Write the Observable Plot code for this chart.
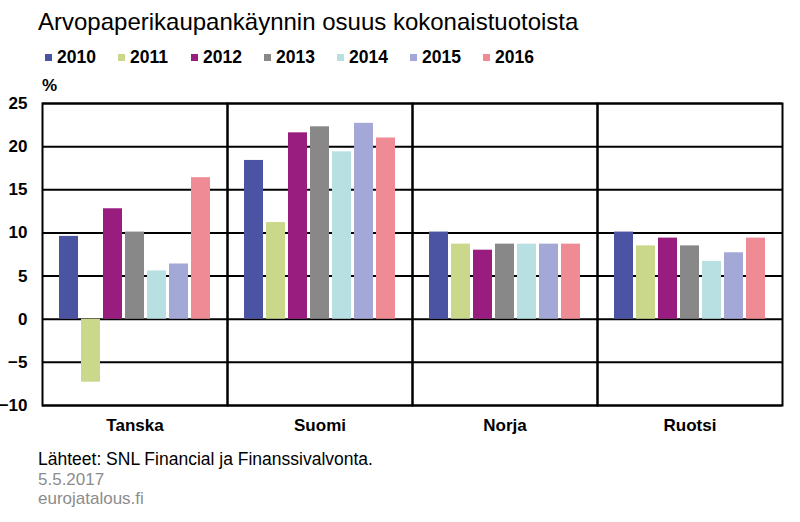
<!DOCTYPE html>
<html>
<head>
<meta charset="utf-8">
<script src="https://cdn.jsdelivr.net/npm/d3@7"></script>
<script src="https://cdn.jsdelivr.net/npm/@observablehq/plot@0.6"></script>
<style>
  html, body { margin: 0; padding: 0; background: #fff; }
  #wrap { position: relative; width: 800px; height: 522px; overflow: hidden; font-family: "Liberation Sans", Arial, sans-serif; color: #000; }
  .abs { position: absolute; white-space: nowrap; line-height: 1; }
  #title { left: 38px; top: 10px; font-size: 24px; }
  #legend { left: 45px; top: 49px; font-size: 17.5px; font-weight: bold; display: flex; }
  .item { display: flex; align-items: center; width: 73px; }
  .sw { width: 7px; height: 7px; margin-right: 5px; }
  #unit { left: 42px; top: 77px; font-size: 17px; font-weight: bold; }
  #chart { position: absolute; left: 0; top: 95px; }
  #src { left: 38px; top: 451px; font-size: 17.5px; }
  #date { left: 38px; top: 471px; font-size: 17px; color: #8c8c8c; }
  #site { left: 38px; top: 490px; font-size: 17px; color: #8c8c8c; }
</style>
</head>
<body>
<div id="wrap">
  <div id="title" class="abs">Arvopaperikaupankäynnin osuus kokonaistuotoista</div>
  <div id="legend" class="abs"></div>
  <div id="unit" class="abs">%</div>
  <div id="chart"></div>
  <div id="src" class="abs">Lähteet: SNL Financial ja Finanssivalvonta.</div>
  <div id="date" class="abs">5.5.2017</div>
  <div id="site" class="abs">eurojatalous.fi</div>
</div>
<script>
const countries = ["Tanska", "Suomi", "Norja", "Ruotsi"];
const years = ["2010", "2011", "2012", "2013", "2014", "2015", "2016"];
const v2010 = [9.6, 18.4, 10.1, 10.1];
const v2011 = [-7.3, 11.2, 8.7, 8.5];
const v2012 = [12.8, 21.6, 8.0, 9.4];
const v2013 = [10.1, 22.3, 8.7, 8.5];
const v2014 = [5.6, 19.4, 8.7, 6.7];
const v2015 = [6.4, 22.7, 8.7, 7.7];
const v2016 = [16.4, 21.0, 8.7, 9.4];
const colors = ["#4b53a3", "#cad88b", "#991c7f", "#888888", "#b8e0e2", "#a4a8d6", "#ef8b94"];
const yTicks = [-10, -5, 0, 5, 10, 15, 20, 25];

const series = [v2010, v2011, v2012, v2013, v2014, v2015, v2016];
const data = [];
years.forEach((yr, i) => {
  countries.forEach((c, j) => data.push({country: c, year: yr, value: series[i][j]}));
});

const legend = document.getElementById("legend");
years.forEach((yr, i) => {
  const it = document.createElement("div");
  it.className = "item";
  const sw = document.createElement("span");
  sw.className = "sw";
  sw.style.background = colors[i];
  const t = document.createElement("span");
  t.textContent = yr;
  it.appendChild(sw); it.appendChild(t);
  legend.appendChild(it);
});

const chart = Plot.plot({
  width: 800,
  height: 345,
  marginLeft: 42,
  marginRight: 18,
  marginTop: 8,
  marginBottom: 35,
  style: {fontFamily: "'Liberation Sans', Arial, sans-serif", fontSize: "17px", fontWeight: "bold", color: "#000", background: "#fff"},
  fx: {domain: countries, padding: 0, label: null},
  x: {domain: years, paddingInner: 0.136, paddingOuter: 0.77, axis: null},
  y: {domain: [-10, 25], label: null},
  color: {domain: years, range: colors},
  marks: [
    Plot.ruleY(yTicks, {stroke: "#000", strokeWidth: 2}),
    Plot.barY(data, {fx: "country", x: "year", y: "value", fill: "year"}),
    Plot.frame({stroke: "#000", strokeWidth: 2}),
    Plot.axisY(yTicks, {tickSize: 0, tickPadding: 15, label: null, fontSize: 17, fontWeight: "bold"}),
    Plot.axisFx({anchor: "bottom", tickSize: 0, tickPadding: 13, label: null, fontSize: 17, fontWeight: "bold"})
  ]
});
document.getElementById("chart").appendChild(chart);
</script>
</body>
</html>
